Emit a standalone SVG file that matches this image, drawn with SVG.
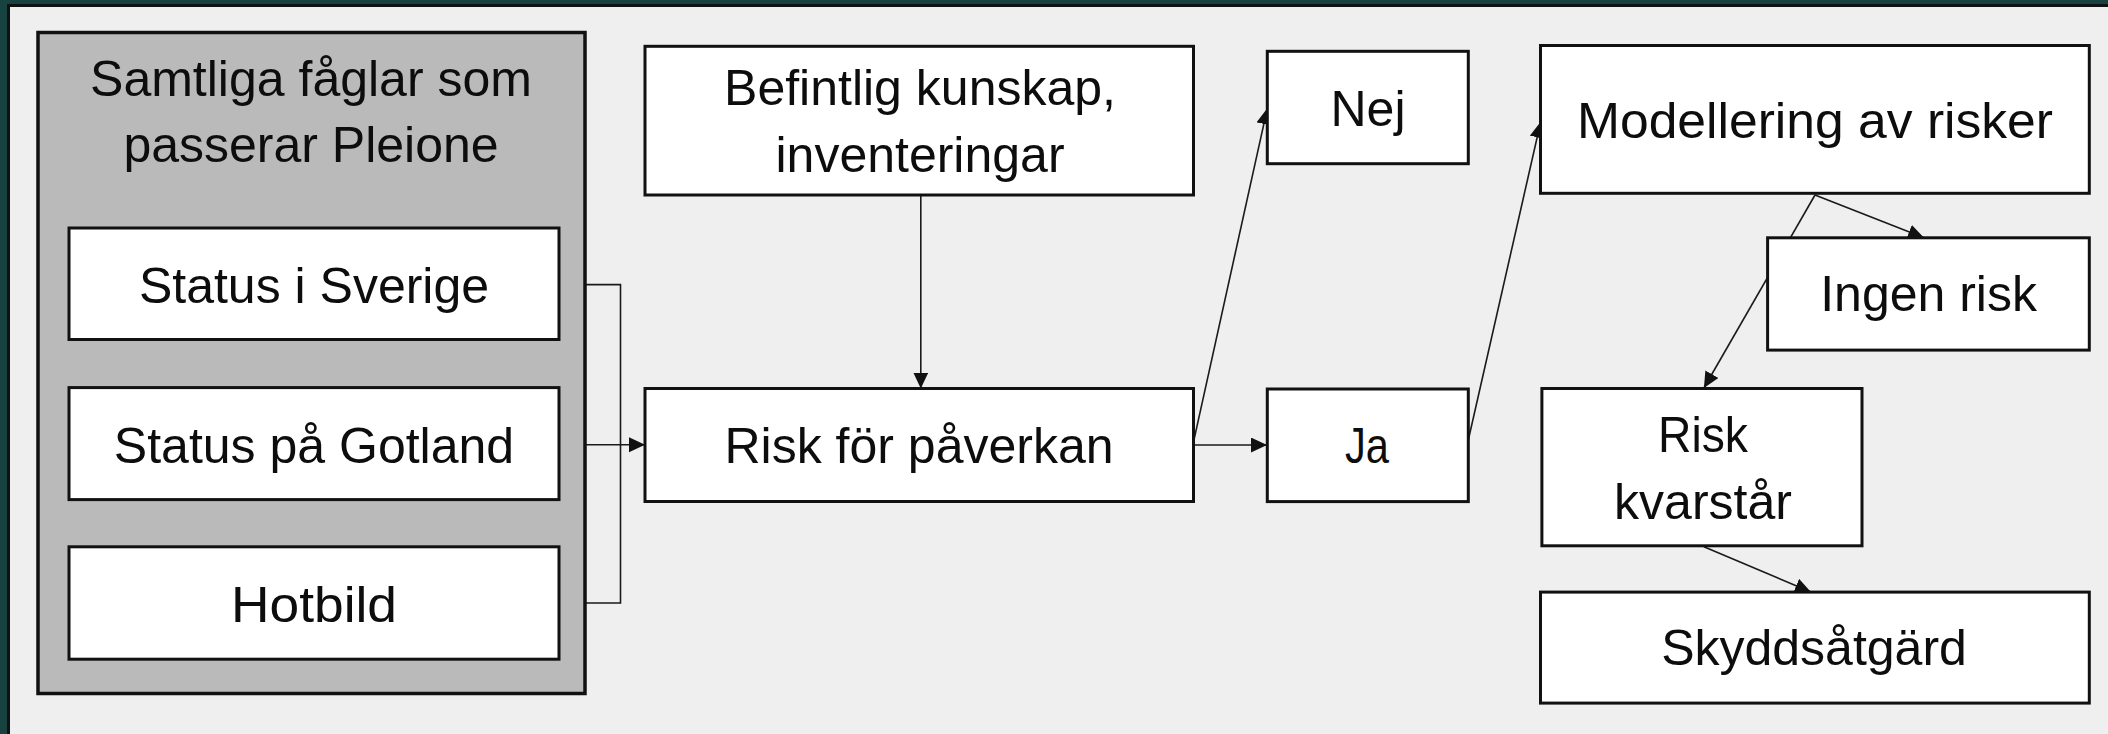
<svg xmlns="http://www.w3.org/2000/svg" width="2108" height="734" viewBox="0 0 2108 734">
<defs>
<style>
.box{fill:#ffffff;stroke:#111111;stroke-width:3}
.grp{fill:#bababa;stroke:#111111;stroke-width:3.5}
.t{font-family:"Liberation Sans",Arial,sans-serif;font-size:50px;fill:#0d0d0d;text-anchor:middle}
.c{fill:none;stroke:#1a1a1a;stroke-width:1.6}
</style>
<marker id="ah" markerUnits="userSpaceOnUse" markerWidth="17" markerHeight="16" refX="16" refY="7.5" orient="auto">
<path d="M0,0 L16,7.5 L0,15 z" fill="#111111"/>
</marker>
</defs>
<rect x="0" y="0" width="2108" height="734" fill="#17423f"/>
<rect x="8.5" y="5.5" width="2110" height="740" fill="#efefef" stroke="#111111" stroke-width="3"/>

<g id="connectors">
<polyline class="c" points="559,284.6 620.5,284.6 620.5,603 559,603"/>
<line class="c" x1="559" y1="444.8" x2="645" y2="444.8" marker-end="url(#ah)"/>
<line class="c" x1="920.8" y1="195" x2="920.8" y2="388.5" marker-end="url(#ah)"/>
<line class="c" x1="1194" y1="445" x2="1267" y2="445" marker-end="url(#ah)"/>
<line class="c" x1="1194.3" y1="438.3" x2="1267.3" y2="108.3" marker-end="url(#ah)"/>
<line class="c" x1="1468.3" y1="440" x2="1540.7" y2="121.7" marker-end="url(#ah)"/>
<line class="c" x1="1815" y1="195" x2="1924" y2="237.8" marker-end="url(#ah)"/>
<line class="c" x1="1815" y1="195" x2="1703.9" y2="388" marker-end="url(#ah)"/>
<line class="c" x1="1703.9" y1="546.7" x2="1810.9" y2="592" marker-end="url(#ah)"/>
</g>

<g id="samtliga">
<rect class="grp" x="38" y="32.5" width="547" height="661"/>
<text class="t" x="311" y="96">Samtliga fåglar som</text>
<text class="t" x="311" y="161.5">passerar Pleione</text>
</g>
<g id="status-sverige">
<rect class="box" x="69" y="228" width="490" height="111.5"/>
<text class="t" x="314" y="303.4">Status i Sverige</text>
</g>
<g id="status-gotland">
<rect class="box" x="69" y="387.6" width="490" height="112"/>
<text class="t" x="314" y="462.5">Status på Gotland</text>
</g>
<g id="hotbild">
<rect class="box" x="69" y="546.8" width="490" height="112.4"/>
<text class="t" x="314" y="621.7" textLength="166" lengthAdjust="spacingAndGlyphs">Hotbild</text>
</g>
<g id="befintlig">
<rect class="box" x="645" y="46.3" width="548.5" height="148.7"/>
<text class="t" x="920" y="104.5">Befintlig kunskap,</text>
<text class="t" x="920" y="171.9">inventeringar</text>
</g>
<g id="risk-paverkan">
<rect class="box" x="645" y="388.5" width="548.5" height="113"/>
<text class="t" x="919" y="463">Risk för påverkan</text>
</g>
<g id="nej">
<rect class="box" x="1267.3" y="51.3" width="201" height="112.4"/>
<text class="t" x="1368" y="125.6">Nej</text>
</g>
<g id="ja">
<rect class="box" x="1267.3" y="389" width="201" height="112.6"/>
<text class="t" x="1367" y="463" textLength="44" lengthAdjust="spacingAndGlyphs">Ja</text>
</g>
<g id="modellering">
<rect class="box" x="1540.5" y="45.5" width="548.8" height="147.8"/>
<text class="t" x="1815" y="138.1" textLength="476" lengthAdjust="spacingAndGlyphs">Modellering av risker</text>
</g>
<g id="ingen-risk">
<rect class="box" x="1767.6" y="237.8" width="321.7" height="112.3"/>
<text class="t" x="1928.6" y="311.3">Ingen risk</text>
</g>
<g id="risk-kvarstar">
<rect class="box" x="1541.9" y="388.5" width="320.1" height="157.3"/>
<text class="t" x="1703" y="451.7" textLength="90" lengthAdjust="spacingAndGlyphs">Risk</text>
<text class="t" x="1703" y="518.7">kvarstår</text>
</g>
<g id="skyddsatgard">
<rect class="box" x="1540.5" y="592.1" width="548.8" height="111"/>
<text class="t" x="1814" y="664.7">Skyddsåtgärd</text>
</g>
</svg>
